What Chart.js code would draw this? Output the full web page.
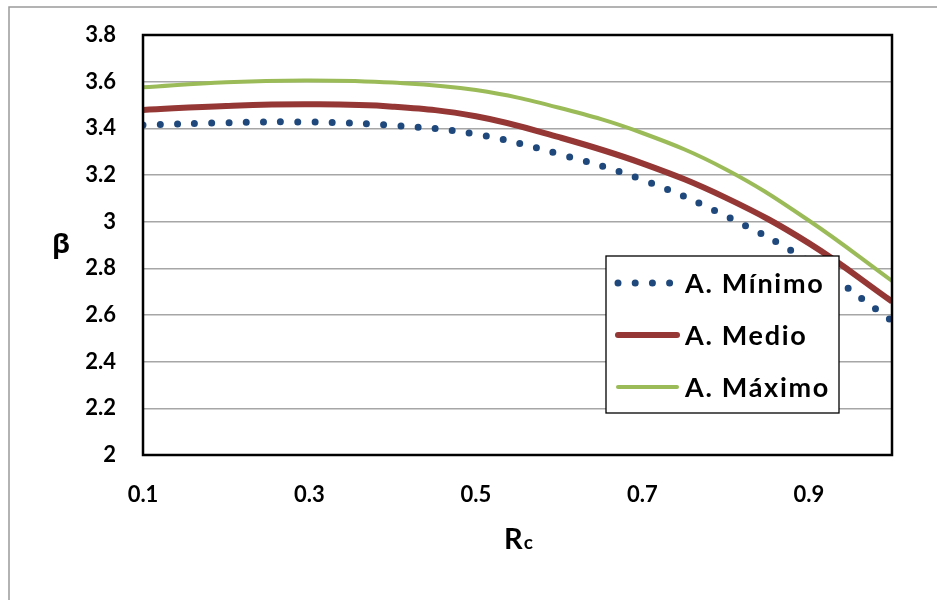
<!DOCTYPE html>
<html>
<head>
<meta charset="utf-8">
<script src="https://cdn.jsdelivr.net/npm/chart.js@4.4.1/dist/chart.umd.min.js"></script>
<style>
  html, body { margin: 0; padding: 0; background: #ffffff; }
  #wrap { width: 937px; height: 600px; position: relative; }
</style>
</head>
<body>
<div id="wrap"><canvas id="c" width="937" height="600"></canvas></div>
<script>
// ---- data ----
const rcValues = [0.1, 0.2, 0.3, 0.4, 0.5, 0.6, 0.7, 0.8, 0.9, 1.0];
const betaMinimo = [3.414, 3.424, 3.427, 3.413, 3.375, 3.29, 3.18, 3.025, 2.83, 2.575];
const betaMedio  = [3.479, 3.496, 3.503, 3.493, 3.452, 3.362, 3.25, 3.103, 2.908, 2.658];
const betaMaximo = [3.576, 3.598, 3.605, 3.596, 3.564, 3.488, 3.38, 3.225, 3.005, 2.746];
const seriesNames = ['A. Mínimo', 'A. Medio', 'A. Máximo'];
const xTickValues = [0.1, 0.3, 0.5, 0.7, 0.9];
const xTickLabels = ['0.1', '0.3', '0.5', '0.7', '0.9'];
const yTickValues = [2, 2.2, 2.4, 2.6, 2.8, 3, 3.2, 3.4, 3.6, 3.8];
const yTickLabels = ['2', '2.2', '2.4', '2.6', '2.8', '3', '3.2', '3.4', '3.6', '3.8'];
const xTitle = 'R';
const xTitleSub = 'c';
const yTitle = 'β';

const toPoints = arr => arr.map((v, i) => ({ x: rcValues[i], y: v }));
const FONT = "Lato, 'Open Sans', 'DejaVu Sans', sans-serif";

const decorPlugin = {
  id: 'decor',
  beforeDraw(chart) {
    const ctx = chart.ctx;
    ctx.save();
    ctx.fillStyle = '#ffffff';
    ctx.fillRect(0, 0, chart.width, chart.height);
    ctx.strokeStyle = '#9a9a9a';
    ctx.lineWidth = 1.5;
    ctx.strokeRect(9, 7, 1000, 700);
    ctx.restore();
  },
  afterDatasetsDraw(chart) {
    const ctx = chart.ctx;
    const a = chart.chartArea;
    ctx.save();
    ctx.strokeStyle = '#000000';
    ctx.lineWidth = 2.5;
    ctx.strokeRect(a.left, a.top, a.right - a.left, a.bottom - a.top);
    ctx.restore();
  },
  afterDraw(chart) {
    const ctx = chart.ctx;
    ctx.save();
    // y axis title
    ctx.fillStyle = '#000000';
    ctx.font = "bold 27px 'Open Sans', 'DejaVu Sans', sans-serif";
    ctx.textAlign = 'center';
    ctx.textBaseline = 'middle';
    ctx.fillText(yTitle, 61, 245);
    // x axis title R with small c
    ctx.textBaseline = 'alphabetic';
    ctx.textAlign = 'left';
    ctx.font = 'bold 29px ' + FONT;
    const wR = ctx.measureText(xTitle).width;
    ctx.font = 'bold 19px ' + FONT;
    const wc = ctx.measureText(xTitleSub).width;
    const x0 = 518 - (wR + wc) / 2;
    ctx.font = 'bold 29px ' + FONT;
    ctx.fillText(xTitle, x0, 549);
    ctx.font = 'bold 19px ' + FONT;
    ctx.fillText(xTitleSub, x0 + wR + 1, 549);

    // legend
    const bx = 606, by = 256, bw = 233, bh = 157;
    ctx.fillStyle = '#ffffff';
    ctx.fillRect(bx, by, bw, bh);
    ctx.strokeStyle = '#000000';
    ctx.lineWidth = 1.3;
    ctx.strokeRect(bx, by, bw, bh);
    const rows = [283, 335, 387];
    chart.data.datasets.forEach((ds, i) => {
      const y = rows[i];
      ctx.save();
      ctx.strokeStyle = ds.borderColor;
      ctx.lineWidth = ds.borderWidth;
      ctx.lineCap = 'round';
      ctx.setLineDash(ds.borderDash || []);
      ctx.beginPath();
      ctx.moveTo(618, y);
      ctx.lineTo(677, y);
      ctx.stroke();
      ctx.restore();
      ctx.save();
      ctx.fillStyle = '#000000';
      ctx.font = 'bold 27px ' + FONT;
      try { ctx.letterSpacing = '1.7px'; } catch (e) {}
      ctx.textAlign = 'left';
      ctx.textBaseline = 'middle';
      ctx.fillText(ds.label, 685, y + 1);
      ctx.restore();
    });
    ctx.restore();
  }
};

new Chart(document.getElementById('c'), {
  type: 'line',
  data: {
    datasets: [
      {
        label: seriesNames[0],
        data: toPoints(betaMinimo),
        borderColor: '#1F497D',
        borderWidth: 7,
        borderDash: [0, 17.2],
        borderCapStyle: 'round',
        pointRadius: 0,
        tension: 0.4,
        fill: false,
        clip: 0
      },
      {
        label: seriesNames[1],
        data: toPoints(betaMedio),
        borderColor: '#953735',
        borderWidth: 6,
        pointRadius: 0,
        tension: 0.4,
        fill: false,
        clip: 0
      },
      {
        label: seriesNames[2],
        data: toPoints(betaMaximo),
        borderColor: '#9BBB59',
        borderWidth: 4,
        pointRadius: 0,
        tension: 0.4,
        fill: false,
        clip: 0
      }
    ]
  },
  options: {
    responsive: false,
    animation: false,
    devicePixelRatio: 1,
    layout: { padding: { top: 35, right: 45, bottom: 0, left: 0 } },
    plugins: {
      legend: { display: false },
      tooltip: { enabled: false },
      title: { display: false }
    },
    scales: {
      x: {
        type: 'linear',
        min: 0.1,
        max: 1.0,
        afterBuildTicks(scale) { scale.ticks = xTickValues.map(v => ({ value: v })); },
        afterFit(scale) { scale.height = 145; scale.paddingLeft = 0; scale.paddingRight = 0; },
        grid: { display: false, drawTicks: false },
        border: { display: false },
        ticks: {
          padding: 27,
          color: '#000000',
          font: { family: FONT, size: 22, weight: 'bold' },
          maxRotation: 0,
          callback(value) {
            const i = xTickValues.findIndex(v => Math.abs(v - value) < 1e-9);
            return i >= 0 ? xTickLabels[i] : '';
          }
        }
      },
      y: {
        type: 'linear',
        min: 2,
        max: 3.8,
        afterBuildTicks(scale) { scale.ticks = yTickValues.map(v => ({ value: v })); },
        afterFit(scale) { scale.width = 143; scale.paddingTop = 0; scale.paddingBottom = 0; },
        grid: { color: '#a6a6a6', lineWidth: 1.5, drawTicks: false },
        border: { display: false },
        ticks: {
          padding: 27,
          color: '#000000',
          font: { family: FONT, size: 22, weight: 'bold' },
          callback(value) {
            const i = yTickValues.findIndex(v => Math.abs(v - value) < 1e-9);
            return i >= 0 ? yTickLabels[i] : '';
          }
        }
      }
    }
  },
  plugins: [decorPlugin]
});
</script>
</body>
</html>
